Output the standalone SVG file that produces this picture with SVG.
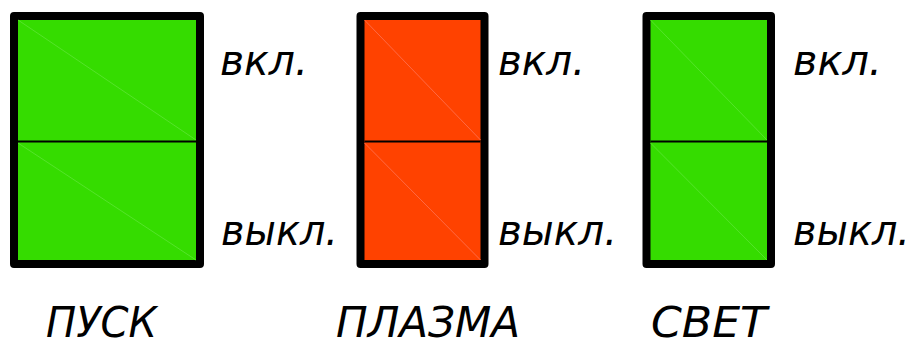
<svg xmlns="http://www.w3.org/2000/svg" width="917" height="347" viewBox="0 0 917 347">
<style>
.frame{stroke:#000;stroke-width:8;stroke-linejoin:round}
.g{fill:#35DC00}
.r{fill:#FF4200}
.mid{stroke:#000;stroke-width:2}
.dg{stroke:#55E42A;stroke-width:1}
.dr{stroke:#FF6A45;stroke-width:1}
.t{font-family:"DejaVu Sans Condensed","DejaVu Sans",sans-serif;font-style:italic;font-stretch:condensed;fill:#000}
.s{font-size:42px}
.b{font-size:42px}
</style>
<rect width="917" height="347" fill="#fff"/>
<g id="pusk">
<rect class="frame g" x="14" y="16" width="186" height="248"/>
<line class="dg" x1="18" y1="20" x2="196" y2="140"/>
<line class="dg" x1="18" y1="143" x2="196" y2="260"/>
<line class="mid" x1="18" y1="141.5" x2="196" y2="141.5"/>
<text class="t s" x="220" y="75" textLength="88" lengthAdjust="spacingAndGlyphs">вкл.</text>
<text class="t s" x="221" y="245" textLength="117" lengthAdjust="spacingAndGlyphs">выкл.</text>
<text class="t b" x="46" y="337" textLength="111" lengthAdjust="spacingAndGlyphs">ПУСК</text>
</g>
<g id="plazma">
<rect class="frame r" x="360.5" y="16" width="124" height="248"/>
<line class="dr" x1="364.5" y1="20" x2="480.5" y2="140"/>
<line class="dr" x1="364.5" y1="143" x2="480.5" y2="260"/>
<line class="mid" x1="364.5" y1="141.5" x2="480.5" y2="141.5"/>
<text class="t s" x="498" y="75" textLength="87" lengthAdjust="spacingAndGlyphs">вкл.</text>
<text class="t s" x="498" y="245" textLength="119" lengthAdjust="spacingAndGlyphs">выкл.</text>
<text class="t b" x="336" y="337" textLength="184" lengthAdjust="spacingAndGlyphs">ПЛАЗМА</text>
</g>
<g id="svet">
<rect class="frame g" x="646.5" y="16" width="124.5" height="248"/>
<line class="dg" x1="650.5" y1="20" x2="767" y2="140"/>
<line class="dg" x1="650.5" y1="143" x2="767" y2="260"/>
<line class="mid" x1="650.5" y1="141.5" x2="767" y2="141.5"/>
<text class="t s" x="793" y="75" textLength="89" lengthAdjust="spacingAndGlyphs">вкл.</text>
<text class="t s" x="793" y="245" textLength="117" lengthAdjust="spacingAndGlyphs">выкл.</text>
<text class="t b" x="651" y="337" textLength="116" lengthAdjust="spacingAndGlyphs">СВЕТ</text>
</g>
<g id="connectors"/>
</svg>
